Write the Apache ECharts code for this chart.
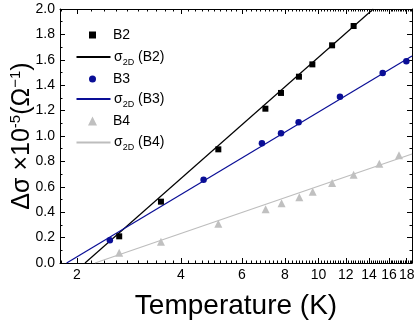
<!DOCTYPE html>
<html>
<head>
<meta charset="utf-8">
<script src="https://cdn.jsdelivr.net/npm/echarts@6/dist/echarts.min.js"></script>
<style>
html,body{margin:0;padding:0;background:#fff;}
#chart{width:415px;height:321px;}
</style>
</head>
<body>
<div id="chart"></div>
<script>
// ---- data ----
const T_B2 = [2.65, 3.50, 5.13, 7.02, 7.79, 8.78, 9.60, 10.95, 12.64];
const Y_B2 = [0.21, 0.483, 0.895, 1.215, 1.339, 1.467, 1.564, 1.714, 1.866];
const T_B3 = [2.49, 4.65, 6.86, 7.79, 8.76, 11.54, 15.34, 17.96];
const Y_B3 = [0.179, 0.656, 0.942, 1.021, 1.108, 1.309, 1.496, 1.588];
const T_B4 = [2.65, 3.50, 5.13, 7.03, 7.82, 8.80, 9.62, 10.95, 12.64, 15.0, 17.1];
const Y_B4 = [0.081, 0.168, 0.31, 0.423, 0.47, 0.517, 0.561, 0.630, 0.695, 0.782, 0.848];
// 2D fit lines (end points)
const FIT_B2_T = [2.11, 14.41];
const FIT_B2_Y = [0, 2.0];
const FIT_B3_T = [1.867, 18.65];
const FIT_B3_Y = [0, 1.63];
const FIT_B4_T = [2.255, 18.65];
const FIT_B4_Y = [0, 0.858];
// axes
const X_MIN = 1.786, X_MAX = 18.65;
const X_TICK_LABELS = [2, 4, 6, 8, 10, 12, 14, 16, 18];
const X_MINOR_STEP = 0.2;
const Y_MIN = 0, Y_MAX = 2.0, Y_STEP = 0.2;
const NAMES = ['B2', 'σ2D (B2)', 'B3', 'σ2D (B3)', 'B4', 'σ2D (B4)'];

const zip = (a, b) => a.map((v, i) => [v, b[i]]);
const minorVals = [];
for (let k = Math.ceil(X_MIN / X_MINOR_STEP); k * X_MINOR_STEP <= X_MAX; k++) {
  minorVals.push(Math.log10(+(k * X_MINOR_STEP).toFixed(3)));
}
const majorVals = X_TICK_LABELS.map(v => Math.log10(v));
const FONT = 'Liberation Sans, Arial, sans-serif';

function valX(pos, vals, len, labels, extra) {
  return Object.assign({
    type: 'value', position: pos, gridIndex: 0,
    min: Math.log10(X_MIN), max: Math.log10(X_MAX),
    axisLine: { show: false, onZero: false },
    axisTick: { show: true, inside: true, length: len, customValues: vals, lineStyle: { color: '#000', width: 1 } },
    axisLabel: labels ? {
      show: true, customValues: vals, margin: 5, fontSize: 14, color: '#000', fontFamily: FONT,
      formatter: v => String(Math.round(Math.pow(10, v)))
    } : { show: false },
    splitLine: { show: false }
  }, extra || {});
}

const RICH = {
  m: { fontSize: 14, fontFamily: FONT, color: '#000', lineHeight: 16 },
  s: { fontSize: 9, fontFamily: FONT, color: '#000', lineHeight: 9, verticalAlign: 'bottom', padding: [0, 0, -2, 0] }
};
// line-fit legend entries: line only (hide the default centre symbol)
const lineLegend = (name, top) => ({
  data: [name], left: 75.5, top: top, padding: 0, itemWidth: 34, itemHeight: 7, itemGap: 0,
  itemStyle: { color: 'rgba(0,0,0,0)', borderWidth: 0 },
  textStyle: { fontSize: 14, fontFamily: FONT, color: '#000', lineHeight: 16, padding: [0, 0, 0, -1.5], rich: RICH },
  formatter: n => '{m|σ}{s|2D}{m|' + n.slice(3) + '}'
});
// marker legend entries: small symbol centred over the line icon
const markLegend = (name, top, size) => ({
  data: [name], left: 92.5 - size / 2, top: top, padding: 0, itemWidth: size, itemHeight: size, itemGap: 0,
  itemStyle: { opacity: 1 },
  textStyle: { fontSize: 14, fontFamily: FONT, color: '#000', lineHeight: 16,
    padding: [0, 0, 0, 113 - (92.5 - size / 2 + size + 5)] }
});

const chart = echarts.init(document.getElementById('chart'), null, { renderer: 'canvas' });
chart.setOption({
  animation: false,
  backgroundColor: '#fff',
  grid: { left: 60, right: 3, top: 9, bottom: 58, containLabel: false, outerBoundsMode: 'none' },
  legend: [
    markLegend(NAMES[0], 27, 7),
    lineLegend(NAMES[1], 49),
    markLegend(NAMES[2], 71, 7),
    lineLegend(NAMES[3], 91),
    markLegend(NAMES[4], 113, 9),
    lineLegend(NAMES[5], 134.5)
  ],
  xAxis: [
    { type: 'log', logBase: 10, min: X_MIN, max: X_MAX, position: 'bottom',
      axisLine: { show: true, onZero: false, lineStyle: { color: '#000', width: 1 } },
      axisTick: { show: false }, axisLabel: { show: false }, splitLine: { show: false }, minorSplitLine: { show: false } },
    valX('bottom', majorVals, 5, true, {
      name: 'Temperature (K)', nameLocation: 'middle', nameGap: 29,
      nameTextStyle: { fontSize: 28, fontFamily: FONT, color: '#000' }
    }),
    valX('bottom', minorVals, 2.5, false),
    valX('top', majorVals, 5, false, { axisLine: { show: true, onZero: false, lineStyle: { color: '#000', width: 1 } } }),
    valX('top', minorVals, 2.5, false)
  ],
  yAxis: [
    { type: 'value', position: 'left', min: Y_MIN, max: Y_MAX, interval: Y_STEP,
      axisLine: { show: true, onZero: false, lineStyle: { color: '#000', width: 1 } },
      axisTick: { show: true, inside: true, length: 5, lineStyle: { color: '#000' } },
      minorTick: { show: true, splitNumber: 2, length: 2.5, lineStyle: { color: '#000' } },
      axisLabel: { margin: 5, fontSize: 14, color: '#000', fontFamily: FONT, formatter: v => v.toFixed(1) },
      splitLine: { show: false },
      name: '{a|Δσ ×10}{p|-5}{a|(Ω}{p|−1}{a|)}', nameLocation: 'middle', nameRotate: 90,
      nameGap: 23, nameMoveOverlap: false,
      nameTextStyle: {
        fontFamily: FONT, color: '#000',
        rich: {
          a: { fontSize: 25, fontFamily: FONT, color: '#000', lineHeight: 29 },
          p: { fontSize: 15, fontFamily: FONT, color: '#000', lineHeight: 15, verticalAlign: 'top' }
        }
      }
    },
    { type: 'value', position: 'right', min: Y_MIN, max: Y_MAX, interval: Y_STEP,
      axisLine: { show: true, onZero: false, lineStyle: { color: '#000', width: 1 } },
      axisTick: { show: true, inside: true, length: 5, lineStyle: { color: '#000' } },
      minorTick: { show: true, splitNumber: 2, length: 2.5, lineStyle: { color: '#000' } },
      axisLabel: { show: false }, splitLine: { show: false } }
  ],
  series: [
    { name: NAMES[0], type: 'scatter', xAxisIndex: 0, yAxisIndex: 0, data: zip(T_B2, Y_B2),
      symbol: 'rect', symbolSize: 6, itemStyle: { color: '#000', opacity: 1 }, z: 3 },
    { name: NAMES[1], type: 'line', xAxisIndex: 0, yAxisIndex: 0, data: zip(FIT_B2_T, FIT_B2_Y),
      symbol: 'none', showSymbol: false, lineStyle: { color: '#000', width: 1.2 }, itemStyle: { color: '#000' }, z: 2 },
    { name: NAMES[2], type: 'scatter', xAxisIndex: 0, yAxisIndex: 0, data: zip(T_B3, Y_B3),
      symbol: 'circle', symbolSize: 6.5, itemStyle: { color: '#0a0e96', opacity: 1 }, z: 3 },
    { name: NAMES[3], type: 'line', xAxisIndex: 0, yAxisIndex: 0, data: zip(FIT_B3_T, FIT_B3_Y),
      symbol: 'none', showSymbol: false, lineStyle: { color: '#0a0e96', width: 1.2 }, itemStyle: { color: '#0a0e96' }, z: 2 },
    { name: NAMES[4], type: 'scatter', xAxisIndex: 0, yAxisIndex: 0, data: zip(T_B4, Y_B4),
      symbol: 'triangle', symbolSize: 8, itemStyle: { color: '#c0c0c0', opacity: 1 }, z: 3 },
    { name: NAMES[5], type: 'line', xAxisIndex: 0, yAxisIndex: 0, data: zip(FIT_B4_T, FIT_B4_Y),
      symbol: 'none', showSymbol: false, lineStyle: { color: '#bdbdbd', width: 1.2 }, itemStyle: { color: '#bdbdbd' }, z: 2 }
  ]
});
</script>
</body>
</html>
